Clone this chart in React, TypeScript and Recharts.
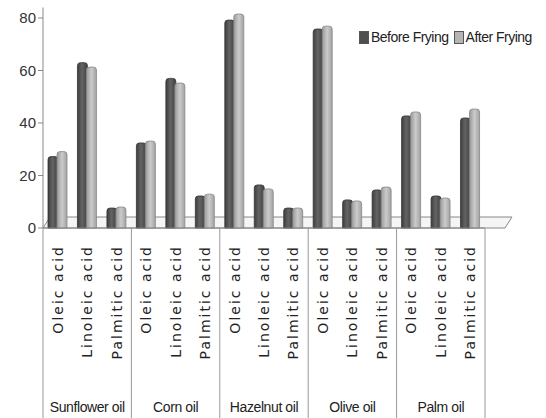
import { BarChart, Bar, XAxis, YAxis, Legend, Rectangle } from 'recharts';

const oils = ['Sunflower oil', 'Corn oil', 'Hazelnut oil', 'Olive oil', 'Palm oil'];
const acids = ['Oleic acid', 'Linoleic acid', 'Palmitic acid'];

// per oil: oleic, linoleic, palmitic
const beforeFrying = [27.2, 63, 7.6, 32.4, 57, 12.2, 79.2, 16.4, 7.6, 75.8, 10.7, 14.5, 42.7, 12.2, 41.9];
const afterFrying = [29.1, 61.3, 8, 33.1, 55.2, 12.9, 81.5, 14.9, 7.6, 76.9, 10.3, 15.6, 44.2, 11.4, 45.3];

const yTicks = [0, 20, 40, 60, 80];

const data = beforeFrying.map((v, i) => ({
  key: `${oils[Math.floor(i / 3)]}-${acids[i % 3]}`,
  acid: acids[i % 3],
  oil: oils[Math.floor(i / 3)],
  before: v,
  after: afterFrying[i],
}));

const PLOT_LEFT = 43;
const PLOT_RIGHT = 485;
const AXIS_Y = 228;
const HALF_BAND = (PLOT_RIGHT - PLOT_LEFT) / data.length / 2;

// first "before" bar also paints the 3d floor, so every bar sits in front of it
function BeforeShape(props: any) {
  const floor = `${PLOT_LEFT},${AXIS_Y} ${PLOT_LEFT + 7},${AXIS_Y - 11} ${PLOT_RIGHT + 27},${AXIS_Y - 11} ${PLOT_RIGHT + 20},${AXIS_Y} ${PLOT_LEFT},${AXIS_Y}`;
  return (
    <g>
      {props.index === 0 && <polyline points={floor} fill="#f5f5f5" stroke="#888" />}
      <Rectangle {...props} />
    </g>
  );
}

function AcidTick(props: any) {
  const { x, y, payload } = props;
  const index = payload.index;
  const row = data[index];
  return (
    <g>
      {index % 3 === 0 && (
        <line x1={x - HALF_BAND} y1={AXIS_Y} x2={x - HALF_BAND} y2={418} stroke="#999" />
      )}
      {index === data.length - 1 && (
        <line x1={x + HALF_BAND} y1={AXIS_Y} x2={x + HALF_BAND} y2={418} stroke="#999" />
      )}
      <text
        x={0}
        y={0}
        transform={`translate(${x + 5},${y + 9}) rotate(-90)`}
        textAnchor="end"
        fontFamily="DejaVu Sans"
        fontSize={14}
        letterSpacing={2}
        fill="#222"
      >
        {row.acid}
      </text>
      {index % 3 === 1 && (
        <text
          x={x}
          y={y + 176}
          textAnchor="middle"
          fontFamily="'Liberation Sans'"
          fontSize={14}
          letterSpacing={-0.4}
          fill="#222"
        >
          {row.oil}
        </text>
      )}
    </g>
  );
}

function LegendBox() {
  const items = [
    { label: 'Before Frying', color: '#4f4f4f' },
    { label: 'After Frying', color: '#b4b4b4' },
  ];
  return (
    <div
      style={{
        display: 'flex',
        whiteSpace: 'nowrap',
        gap: 5,
        fontFamily: "'Liberation Sans'",
        fontSize: 14,
        letterSpacing: -0.5,
        color: '#222',
        background: '#fff',
        padding: '2px 0 2px 3px',
      }}
    >
      {items.map((it) => (
        <span key={it.label} style={{ display: 'flex', alignItems: 'center', gap: 2 }}>
          <span style={{ width: 8, height: 11, background: it.color, border: '1px solid #555', display: 'inline-block' }} />
          {it.label}
        </span>
      ))}
    </div>
  );
}

export default function App() {
  return (
    <div style={{ position: 'absolute', left: 0, top: 0, background: '#fff' }}>
      <BarChart
        width={546}
        height={418}
        data={data}
        margin={{ top: 7.5, right: 61, bottom: 0, left: 0 }}
        barSize={10}
        barGap={-1}
      >
        <defs>
          <linearGradient id="gBefore" x1="0" y1="0" x2="1" y2="0">
            <stop offset="0%" stopColor="#3e3e3e" />
            <stop offset="45%" stopColor="#646464" />
            <stop offset="100%" stopColor="#404040" />
          </linearGradient>
          <linearGradient id="gAfter" x1="0" y1="0" x2="1" y2="0">
            <stop offset="0%" stopColor="#9a9a9a" />
            <stop offset="50%" stopColor="#cbcbcb" />
            <stop offset="100%" stopColor="#a2a2a2" />
          </linearGradient>
        </defs>
        <XAxis
          dataKey="key"
          interval={0}
          height={190}
          axisLine={{ stroke: '#888' }}
          tickLine={false}
          tick={<AcidTick />}
        />
        <YAxis
          width={43}
          domain={[0, 84]}
          ticks={yTicks}
          axisLine={{ stroke: '#888' }}
          tickLine={{ stroke: '#888' }}
          tickSize={5}
          tick={{ fontFamily: "'Liberation Sans'", fontSize: 15, fill: '#333' }}
        />
        <Legend
          verticalAlign="top"
          align="right"
          wrapperStyle={{ top: 27, left: 356, width: 190, height: 0, overflow: 'visible' }}
          content={<LegendBox />}
        />
        <Bar dataKey="before" name="Before Frying" fill="url(#gBefore)" stroke="#333" strokeWidth={0.8} radius={[3, 3, 0, 0]} shape={<BeforeShape />} isAnimationActive={false} />
        <Bar dataKey="after" name="After Frying" fill="url(#gAfter)" stroke="#888" strokeWidth={0.8} radius={[3, 3, 0, 0]} isAnimationActive={false} />
      </BarChart>
    </div>
  );
}
